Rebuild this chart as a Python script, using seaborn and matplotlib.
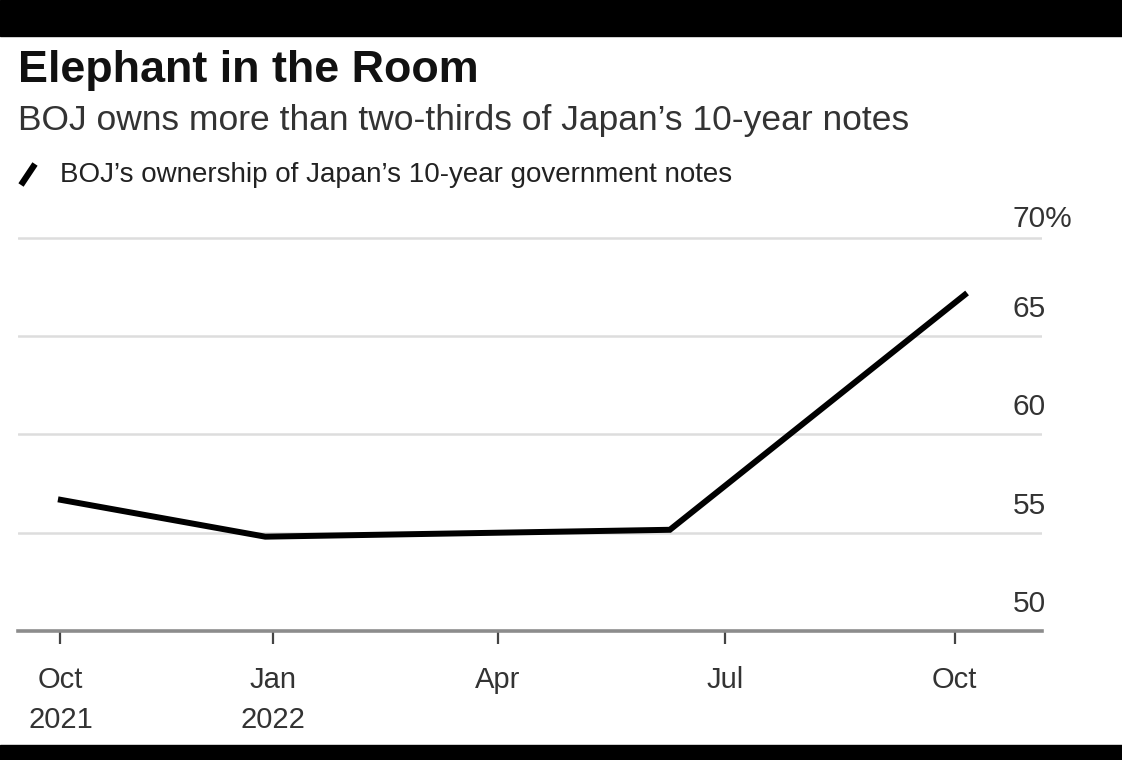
import matplotlib
matplotlib.use("Agg")
import matplotlib.pyplot as plt
import matplotlib.transforms as mtransforms
from matplotlib.patches import Rectangle
from matplotlib.lines import Line2D
import seaborn as sns
import pandas as pd

# ---- data ----
dates = ["2021-10-07", "2021-12-29", "2022-06-09", "2022-10-06"]
ownership = [56.7, 54.8, 55.15, 67.2]
tick_dates = ["2021-10-08", "2022-01-01", "2022-04-01", "2022-07-01", "2022-10-01"]
tick_labels = ["Oct\n2021", "Jan\n2022", "Apr", "Jul", "Oct"]
y_ticks = [50, 55, 60, 65, 70]
y_labels = ["50", "55", "60", "65", "70%"]
title = "Elephant in the Room"
subtitle = "BOJ owns more than two-thirds of Japan’s 10-year notes"
legend_label = "BOJ’s ownership of Japan’s 10-year government notes"

sns.set_style("white")
plt.rcParams["font.family"] = ["Liberation Sans", "DejaVu Sans"]

W, H = 1122, 760
fig = plt.figure(figsize=(W / 100, H / 100), dpi=100)
fig.patch.set_facecolor("white")

top_px, bot_px = 235, 631
ax = fig.add_axes([18 / W, 1 - bot_px / H, 1024 / W, (bot_px - top_px) / H])

df = pd.DataFrame({"date": pd.to_datetime(dates), "share": ownership})
sns.lineplot(data=df, x="date", y="share", ax=ax, color="black", lw=4.3,
             solid_joinstyle="miter", solid_capstyle="butt", zorder=5)

ax.set_xlim(pd.Timestamp("2021-09-21"), pd.Timestamp("2022-11-05"))
ax.set_ylim(50, 70.15)
ax.set_xlabel("")
ax.set_ylabel("")

# y axis: labels on right, above the gridlines
ax.set_yticks(y_ticks)
ax.set_yticklabels(y_labels)
ax.yaxis.tick_right()
ax.tick_params(axis="y", length=0, pad=0, labelsize=21.5, labelcolor="#333333")
ax.yaxis.grid(True, color="#dddddd", lw=1.8)
ax.set_axisbelow(True)
for val, lab in zip(y_ticks, ax.get_yticklabels()):
    dy = 11 if val == 70 else 19
    lab.set_horizontalalignment("left")
    lab.set_verticalalignment("baseline")
    lab.set_transform(lab.get_transform() +
                      mtransforms.ScaledTranslation(-29 / 100, dy / 100, fig.dpi_scale_trans))

# x axis
ax.set_xticks(pd.to_datetime(tick_dates))
ax.set_xticklabels(tick_labels, linespacing=1.55)
ax.tick_params(axis="x", bottom=True, length=9, width=1.6, color="#444444",
               pad=16, labelsize=21, labelcolor="#333333")

for s in ["top", "left", "right"]:
    ax.spines[s].set_visible(False)
ax.spines["bottom"].set_color("#8c8c8c")
ax.spines["bottom"].set_linewidth(2.6)
ax.spines["bottom"].set_zorder(3)

# titles
fig.text(18 / W, 1 - 82 / H, title, fontsize=32.3, fontweight="bold",
         color="#111111", va="baseline", ha="left")
fig.text(18 / W, 1 - 130 / H, subtitle, fontsize=25.5, color="#333333",
         va="baseline", ha="left")
fig.add_artist(Line2D([21 / W, 35 / W], [1 - 185 / H, 1 - 164 / H],
                      color="black", lw=4.5, solid_capstyle="butt",
                      transform=fig.transFigure))
fig.text(60 / W, 1 - 182 / H, legend_label, fontsize=20, color="#222222",
         va="baseline", ha="left")

# black bands top & bottom
fig.add_artist(Rectangle((0, 1 - 36 / H), 1, 36 / H, transform=fig.transFigure,
                         color="black", zorder=10))
fig.add_artist(Rectangle((0, 0), 1, 15 / H, transform=fig.transFigure,
                         color="black", zorder=10))

fig.savefig("out.png", dpi=100, facecolor="white")
